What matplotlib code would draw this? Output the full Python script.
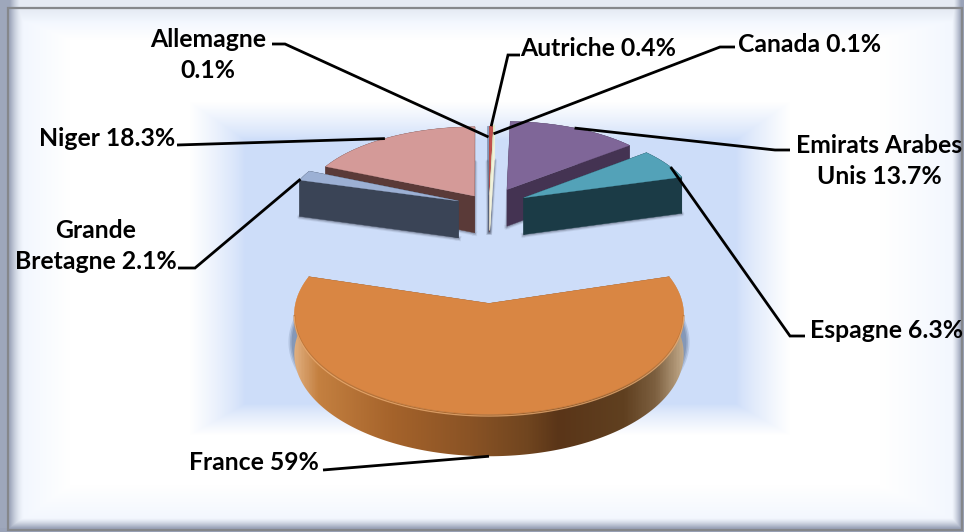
import numpy as np
import matplotlib
matplotlib.use("Agg")
import matplotlib.pyplot as plt
from matplotlib.colors import LinearSegmentedColormap, to_rgb
from matplotlib.patches import Rectangle, Polygon

# ---- data ----
categories = ["Autriche", "Canada", "Emirats Arabes Unis", "Espagne", "France",
              "Grande Bretagne", "Niger", "Allemagne"]
shares = [0.4, 0.1, 13.7, 6.3, 59.0, 2.1, 18.3, 0.1]
label_texts = ["Autriche 0.4%", "Canada 0.1%", "Emirats Arabes\nUnis 13.7%", "Espagne 6.3%",
               "France 59%", "Grande\nBretagne 2.1%", "Niger 18.3%", "Allemagne\n0.1%"]

# ---- styles ----
explode = [0.14, 0.16, 0.24, 0.23, 1.11, 0.19, 0.155, 0.14]
top_colors = ["#C0504D", "#DDE8BE", "#7F6698", "#53A2B8", "#D98643", "#9CB0D4", "#D49A98", "#8DA4C8"]
side_colors = ["#7A3230", "#F2F2DC", "#443352", "#1B3B46", "#8C5426", "#3A4456", "#5A3A38", "#4A5A78"]
draw_order = [2, 6, 7, 0, 1, 3, 5, 4]
label_xy = [(598, 48), (810, 45), (879, 161), (887, 330), (254, 462), (96, 246), (107, 138), (208, 55)]
leader_via = [[(520, 55), (508, 55)], [(735, 47), (720, 47)], [(790, 150), (775, 150)],
              [(805, 336), (790, 336)], [(323, 470)], [(178, 268), (195, 268)],
              [(177, 145)], [(272, 44), (285, 44)]]
leader_frac = [0.5, 0.5, 0.5, 0.62, 0.5, 0.1, 0.47, 0.5]
leader_inset = [0, 0.7, 0, 0, 0, 0, 0, 0.85]

CX, Y0, W, H, K, DEPTH = 489.0, 206.0, 172.0, 78.0, 0.10, 37.0
PX_W, PX_H = 964, 532


def project(u, v, z=0.0):
    s = 1.0 / (1.0 + K * v)
    return CX + W * u * s, Y0 - H * v * s + DEPTH * np.sqrt(s) * z


fig = plt.figure(figsize=(PX_W / 100, PX_H / 100), dpi=100)
ax = fig.add_axes([0, 0, 1, 1])
ax.set_xlim(0, PX_W)
ax.set_ylim(PX_H, 0)
ax.axis("off")

# ---- background: bevelled frame and soft inner rectangle ----
yy, xx = np.mgrid[0:PX_H, 0:PX_W] + 0.5


def band(a, lo, hi):
    return np.clip((a - lo) / (hi - lo), 0, 1)


inner = np.array(to_rgb("#CDDDF9"))
white = np.array([1.0, 1.0, 1.0])
base = np.array(to_rgb("#F1F6FE"))
d = np.maximum.reduce([band(245 - xx, 0, 55), band(xx - 736, 0, 54),
                       band(140 - yy, 0, 38), band(yy - 404, 0, 31)])
d = d ** 0.8
img = inner[None, None, :] * (1 - d[..., None]) + white * d[..., None]
edge = np.maximum(band(70 - xx, 0, 48), band(xx - 880, 0, 75))
edge = np.maximum(edge, band(yy - 485, 0, 35))
edge = np.maximum(edge, band(40 - yy, 0, 20))
outside = d[..., None]
img = img * (1 - (edge * 0.9)[..., None] * outside) + base * (edge * 0.9)[..., None] * outside
# bevels
grey = np.array(to_rgb("#9AA3B8"))
left = band(24 - xx, 0, 14) ** 1.6
right = band(xx - 952, 0, 9) ** 1.3
bottom = band(yy - 518, 0, 10) ** 1.3
top = band(22 - yy, 0, 13) * 0.15
bev = np.maximum.reduce([left * 0.95, right, bottom, top])
img = img * (1 - bev[..., None]) + grey * bev[..., None]
ax.imshow(img, extent=(0, PX_W, PX_H, 0), aspect="auto", zorder=0, interpolation="bilinear")
ax.add_patch(Rectangle((7.5, 7.5), 954, 522, fill=False, ec="#85878B", lw=1.6, zorder=1))

# ---- pie geometry derived from the shares ----
vals = np.array(shares, dtype=float)
edges = np.concatenate([[0.0], np.cumsum(vals) / vals.sum() * 2 * np.pi])
mid = 0.5 * (edges[:-1] + edges[1:])
rim_cmap = LinearSegmentedColormap.from_list(
    "rim", [(0.0, "#E0AE7E"), (0.06, "#C48040"), (0.25, "#A5632B"), (0.45, "#8A5325"),
            (0.60, "#70451F"), (0.68, "#5A3518"), (0.85, "#604020"), (0.93, "#7D6040"),
            (1.0, "#C0A888")])


def slice_uv(i, r=1.0):
    a0, a1 = edges[i], edges[i + 1]
    n = max(3, int((a1 - a0) / 0.02))
    t = np.linspace(a0, a1, n)
    return (explode[i] * np.sin(mid[i]) + r * np.sin(t),
            explode[i] * np.cos(mid[i]) + r * np.cos(t), t)


def quad(u0, v0, u1, v1):
    x0, y0 = project(u0, v0, 0)
    x1, y1 = project(u1, v1, 0)
    x2, y2 = project(u1, v1, 1)
    x3, y3 = project(u0, v0, 1)
    return [x0, x1, x2, x3], [y0, y1, y2, y3]


inner_clip = Rectangle((0, 0), PX_W, 399, transform=ax.transData)

for z, i in enumerate(draw_order):
    zb = 3 + z
    u, v, t = slice_uv(i)
    au, av = explode[i] * np.sin(mid[i]), explode[i] * np.cos(mid[i])
    ou, ov = np.r_[au, u, au], np.r_[av, v, av]
    sx, sy = project(ou, ov, 1)
    tx, ty = project(ou, ov, 0)
    is_france = categories[i] == "France"
    # soft shadow under the solid
    if is_france:
        cxx = sx.mean()
        for grow, al in [(1.03, 0.25), (1.022, 0.35), (1.014, 0.5)]:
            patch = ax.fill(cxx + (sx - cxx) * grow, sy - 12, color="#6F83A3", alpha=al,
                            lw=0, zorder=zb)[0]
            patch.set_clip_path(inner_clip)
    else:
        for lw_s, al in [(5.0, 0.12), (3.2, 0.2), (1.6, 0.3)]:
            ax.plot(sx, sy + 0.5, color="#5B6478", lw=lw_s * 0.72, alpha=al, zorder=zb,
                    solid_joinstyle="round")
    # radial cut faces
    for uu, vv in [(u[0], v[0]), (u[-1], v[-1])]:
        qx, qy = quad(au, av, uu, vv)
        ax.fill(qx, qy, color=side_colors[i], lw=0.3, ec=side_colors[i], zorder=zb + 0.1)
    # outer rim
    fx0, fy0 = project(u, v, 0)
    fx1, fy1 = project(u, v, 1)
    rim_xy = np.c_[np.r_[fx0, fx1[::-1]], np.r_[fy0, fy1[::-1]]]
    if is_france:
        grad = np.linspace(0, 1, 400)[None, :]
        im = ax.imshow(grad, cmap=rim_cmap, extent=(sx.min(), sx.max(), PX_H, 0),
                       aspect="auto", zorder=zb + 0.2, interpolation="bilinear")
        im.set_clip_path(Polygon(rim_xy, closed=True, transform=ax.transData))
    else:
        ax.fill(rim_xy[:, 0], rim_xy[:, 1], color=side_colors[i], lw=0.3,
                ec=side_colors[i], zorder=zb + 0.2)
    # top surface
    ax.fill(tx, ty, color=top_colors[i], lw=0.2, ec=top_colors[i], zorder=zb + 0.3)
    if is_france:
        front = np.abs(np.sin(t)) < 0.97
        arc_x, arc_y = project(u, v, 0)
        arc_x, arc_y = arc_x[np.cos(t) < -0.1], arc_y[np.cos(t) < -0.1]
        ax.plot(arc_x, arc_y + 0.5, color="#B06A2C", lw=1.4, zorder=zb + 0.4, alpha=0.55)
        ax.plot(arc_x, arc_y + 1.5, color="#F2B57C", lw=0.9, zorder=zb + 0.5, alpha=0.7)

ax.set_xlim(0, PX_W)
ax.set_ylim(PX_H, 0)

# ---- leader lines and labels ----
for i, label in enumerate(label_texts):
    a = edges[i] + leader_frac[i] * (edges[i + 1] - edges[i])
    r = 1.0 - leader_inset[i] * 0.2
    ex, ey = project(explode[i] * np.sin(mid[i]) + r * np.sin(a),
                     explode[i] * np.cos(mid[i]) + r * np.cos(a),
                     1 if categories[i] == "France" else 0)
    pts = leader_via[i] + [(ex, ey)]
    ax.plot([p[0] for p in pts], [p[1] for p in pts], color="black", lw=2.0,
            solid_capstyle="butt", solid_joinstyle="miter", zorder=30)
    ax.text(label_xy[i][0], label_xy[i][1], label, ha="center", va="center", fontsize=17.8,
            family="Lato", fontweight="bold", color="black", linespacing=1.4, zorder=31)

fig.savefig("out.png", dpi=100)
